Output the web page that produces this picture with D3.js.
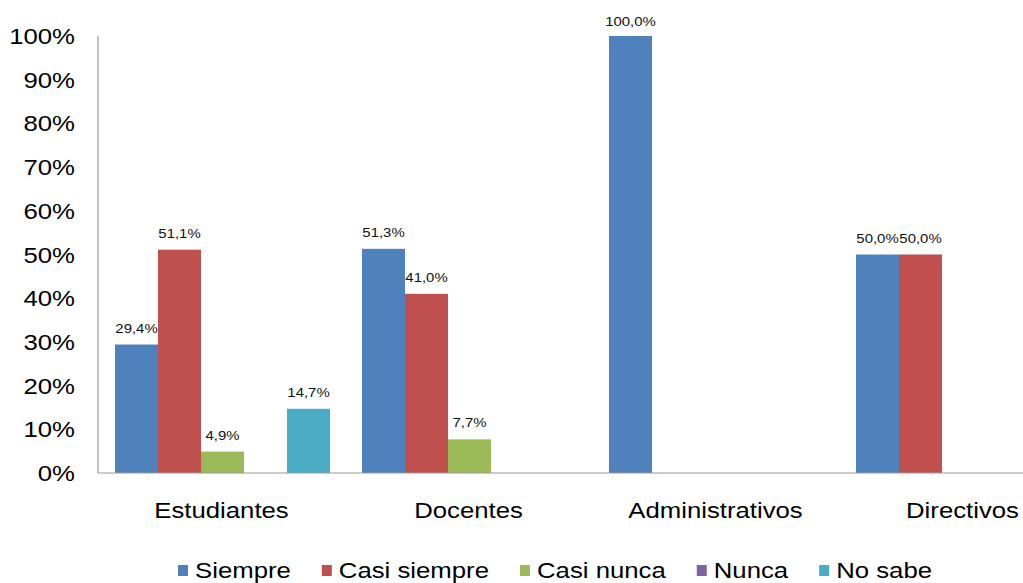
<!DOCTYPE html>
<html><head><meta charset="utf-8">
<script src="https://cdn.jsdelivr.net/npm/d3@7"></script>
<style>body{margin:0;background:#fff}svg{display:block}text{font-family:"Liberation Sans",Arial,sans-serif;fill:#000}</style>
</head><body>
<svg id="c" width="1023" height="583"></svg>
<script>
const categories = ["Estudiantes","Docentes","Administrativos","Directivos"];
const seriesNames = ["Siempre","Casi siempre","Casi nunca","Nunca","No sabe"];
const siempre = [29.4, 51.3, 100.0, 50.0];
const casiSiempre = [51.1, 41.0, 0, 50.0];
const casiNunca = [4.9, 7.7, 0, 0];
const nunca = [0, 0, 0, 0];
const noSabe = [14.7, 0, 0, 0];
const yTicks = [0,10,20,30,40,50,60,70,80,90,100];
const colors = ["#4F81BD","#C0504D","#9BBB59","#8064A2","#4BACC6"];
const seriesValues = [siempre, casiSiempre, casiNunca, nunca, noSabe];

const svg = d3.select("#c");
const SX = 1.17;
const left = 98, bandW = 247, y0 = 473, y1 = 36;
const x = d3.scaleBand().domain(categories).range([left, left + bandW*categories.length]).padding(0);
const xs = d3.scaleBand().domain(seriesNames).range([17, 232]).padding(0);
const y = d3.scaleLinear().domain([0,100]).range([y0, y1]);
const fmt = v => v.toFixed(1).replace(".", ",") + "%";

// y tick labels
svg.append("g").selectAll("text").data(yTicks).join("text")
  .attr("transform", d => `translate(75,${y(d)+8}) scale(${SX},1)`)
  .attr("text-anchor","end").style("font-size","22px")
  .text(d => d + "%");

// bars
const g = svg.append("g");
seriesNames.forEach((s, si) => {
  const data = categories.map((c, ci) => ({c, v: seriesValues[si][ci]}));
  g.selectAll(null).data(data.filter(d => d.v > 0)).join("rect")
    .attr("x", d => x(d.c) + xs(s)).attr("width", xs.bandwidth())
    .attr("y", d => y(d.v)).attr("height", d => y0 - y(d.v))
    .attr("fill", colors[si]);
  g.selectAll(null).data(data.filter(d => d.v > 0)).join("text")
    .attr("transform", d => `translate(${x(d.c) + xs(s) + xs.bandwidth()/2},${y(d.v) - (d.v >= 100 ? 10 : 12)}) scale(1.15,1)`)
    .attr("text-anchor","middle").style("font-size","13px").style("fill","#111")
    .text(d => fmt(d.v));
});

// axes lines
svg.append("line").attr("x1", left).attr("x2", left).attr("y1", y(100)).attr("y2", y0).attr("stroke","#999").attr("stroke-width",1.2);
svg.append("line").attr("x1", left).attr("x2", 1023).attr("y1", y0).attr("y2", y0).attr("stroke","#999").attr("stroke-width",1.2);

// category labels
svg.append("g").selectAll("text").data(categories).join("text")
  .attr("transform", d => `translate(${x(d) + bandW/2},518) scale(${SX},1)`)
  .attr("text-anchor","middle").style("font-size","22px").text(d => d);

// legend
const lg = svg.append("g");
let lx = 178;
seriesNames.forEach((s, i) => {
  lg.append("rect").attr("x", lx).attr("y", 565).attr("width", 10).attr("height", 11).attr("fill", colors[i]);
  const t = lg.append("text").attr("transform", `translate(${lx+17},578) scale(${SX},1)`).style("font-size","22px").text(s);
  const w = t.node().getComputedTextLength() * SX;
  lx += 17 + w + 31;
});
</script>
</body></html>
